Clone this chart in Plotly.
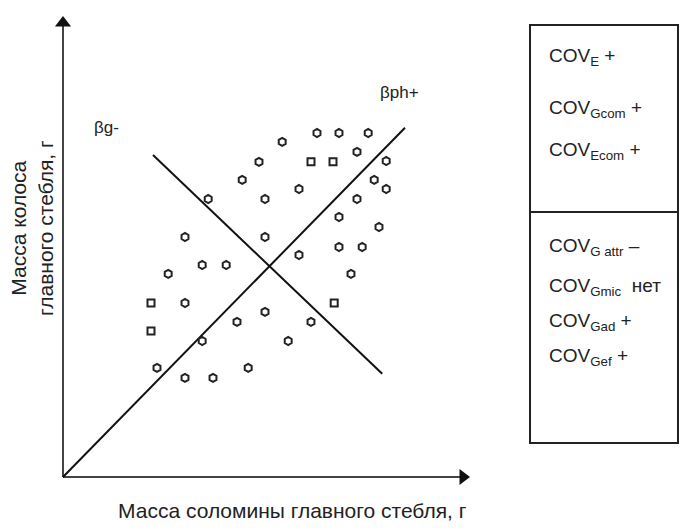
import plotly.graph_objects as go

# Data (arbitrary units)
circ_x = [6.35, 6.90, 7.63, 5.48, 4.90, 7.35, 8.08, 4.48, 5.90, 7.78, 8.08, 3.63, 5.05, 7.35,
          6.90, 7.90, 3.05, 5.05, 6.90, 7.48, 5.90, 3.48, 4.08, 2.63, 7.20, 3.05, 5.05, 4.35,
          6.20, 3.48, 5.63, 2.35, 4.63, 3.05, 3.75]
circ_y = [8.60, 8.60, 8.60, 8.38, 7.88, 8.13, 7.90, 7.43, 7.20, 7.43, 7.20, 6.95, 6.95, 6.95,
          6.50, 6.25, 6.00, 6.00, 5.75, 5.75, 5.55, 5.30, 5.30, 5.08, 5.08, 4.35, 4.13, 3.88,
          3.88, 3.40, 3.40, 2.73, 2.73, 2.48, 2.48]
sq_x = [6.20, 6.75, 2.20, 6.78, 2.20]
sq_y = [7.88, 7.88, 4.35, 4.35, 3.65]

line_ph_x = [0.0, 8.55]
line_ph_y = [0.0, 8.73]
line_g_x = [2.25, 7.98]
line_g_y = [8.05, 2.58]

axis_x_end = 10.0
axis_y_end = 11.35

box_top_lines = ["COV<sub>E</sub> +", "COV<sub>Gcom</sub> +", "COV<sub>Ecom</sub> +"]
box_bot_lines = ["COV<sub>G attr</sub> –", "COV<sub>Gmic</sub>  нет", "COV<sub>Gad</sub> +", "COV<sub>Gef</sub> +"]

W, H = 680, 531
NARROW = "Liberation Sans Narrow, Arial Narrow, Liberation Sans, Arial"
REG = "Liberation Sans, Arial"

fig = go.Figure()
# axes with arrowheads
fig.add_trace(go.Scatter(x=[0, 0, None, 0, axis_x_end], y=[0, axis_y_end, None, 0, 0], mode="lines",
                         line=dict(color="#444444", width=2), showlegend=False, hoverinfo="skip"))
fig.add_trace(go.Scatter(x=[0], y=[axis_y_end], mode="markers",
                         marker=dict(symbol="triangle-up", size=14, color="#111111"),
                         showlegend=False, hoverinfo="skip"))
fig.add_trace(go.Scatter(x=[axis_x_end], y=[0], mode="markers",
                         marker=dict(symbol="triangle-right", size=14, color="#111111"),
                         showlegend=False, hoverinfo="skip"))

fig.add_trace(go.Scatter(x=line_ph_x, y=line_ph_y, mode="lines",
                         line=dict(color="#111111", width=2), showlegend=False, hoverinfo="skip"))
fig.add_trace(go.Scatter(x=line_g_x, y=line_g_y, mode="lines",
                         line=dict(color="#111111", width=2), showlegend=False, hoverinfo="skip"))
fig.add_trace(go.Scatter(x=circ_x, y=circ_y, mode="markers",
                         marker=dict(symbol="hexagon-open", size=8, color="#222222",
                                     line=dict(width=2, color="#222222")),
                         showlegend=False))
fig.add_trace(go.Scatter(x=sq_x, y=sq_y, mode="markers",
                         marker=dict(symbol="square-open", size=7, color="#222222",
                                     line=dict(width=2, color="#222222")),
                         showlegend=False))


def px(xp):
    return xp / W


def py(yp):
    return 1 - yp / H


# labels
fig.add_annotation(x=px(106), y=py(128), xref="paper", yref="paper", text="βg-", showarrow=False,
                   font=dict(family=NARROW, size=17, color="#222"), xanchor="center", yanchor="middle")
fig.add_annotation(x=px(399), y=py(92), xref="paper", yref="paper", text="βph+", showarrow=False,
                   font=dict(family=NARROW, size=17, color="#222"), xanchor="center", yanchor="middle")
fig.add_annotation(x=px(292), y=py(510), xref="paper", yref="paper",
                   text="Масса соломины главного стебля, г", showarrow=False,
                   font=dict(family=NARROW, size=21, color="#222"), xanchor="center", yanchor="middle")
fig.add_annotation(x=px(32), y=py(228), xref="paper", yref="paper",
                   text="Масса колоса<br>главного стебля, г", showarrow=False, textangle=-90,
                   font=dict(family=REG, size=21, color="#222"), xanchor="center", yanchor="middle")

# box
fig.add_shape(type="rect", xref="paper", yref="paper", x0=px(530), x1=px(678), y0=py(443), y1=py(25),
              line=dict(color="#222", width=2))
fig.add_shape(type="line", xref="paper", yref="paper", x0=px(530), x1=px(678), y0=py(212), y1=py(212),
              line=dict(color="#222", width=2))

for t, yy in zip(box_top_lines, [57, 109, 151]):
    fig.add_annotation(x=px(547), y=py(yy), xref="paper", yref="paper", text=t, showarrow=False,
                       font=dict(family=NARROW, size=19, color="#222"), xanchor="left", yanchor="middle")
for t, yy in zip(box_bot_lines, [247, 287, 322, 357]):
    fig.add_annotation(x=px(547), y=py(yy), xref="paper", yref="paper", text=t, showarrow=False,
                       font=dict(family=NARROW, size=19, color="#222"), xanchor="left", yanchor="middle")

fig.update_xaxes(range=[-63 / 40, (W - 63) / 40], visible=False, fixedrange=True)
fig.update_yaxes(range=[(477 - H) / 40, 477 / 40], visible=False, fixedrange=True)
fig.update_layout(width=W, height=H, margin=dict(l=0, r=0, t=0, b=0),
                  paper_bgcolor="white", plot_bgcolor="white")

fig.write_html("out.html")
